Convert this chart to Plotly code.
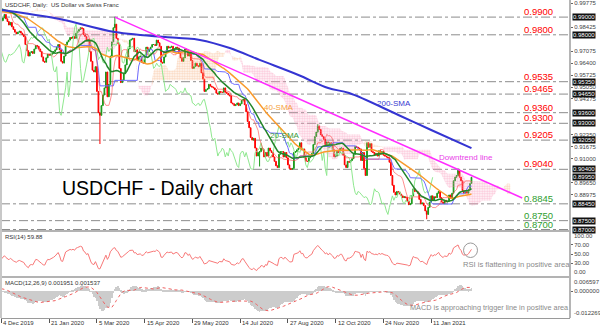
import numpy as np
import pandas as pd
import plotly.graph_objects as go

# ---------------- data ----------------
# warm-up closes (18 Sep - 3 Dec 2019), only used to seed the indicators
pre_close = [0.9920, 0.9935, 0.9910, 0.9880, 0.9865, 0.9890, 0.9910, 0.9935, 0.9975,
             0.9995, 0.9960, 0.9950, 0.9925, 0.9960, 0.9950, 0.9905, 0.9935, 0.9975, 0.9985,
             0.9970, 0.9920, 0.9870, 0.9865, 0.9870, 0.9895, 0.9910, 0.9925, 0.9930, 0.9950,
             0.9935, 0.9905, 0.9865,
             0.9865, 0.9895, 0.9925, 0.9950, 0.9965, 0.9975, 0.9965, 0.9945, 0.9915, 0.9890,
             0.9880, 0.9905, 0.9935, 0.9945, 0.9960, 0.9975, 0.9985, 0.9995, 0.9990, 1.0000,
             1.0005, 0.9945, 0.9875]

c_2019_12 = [0.9880, 0.9895, 0.9915, 0.9890, 0.9875, 0.9855, 0.9870, 0.9845, 0.9830, 0.9815,
             0.9805, 0.9815, 0.9820, 0.9810, 0.9800, 0.9790, 0.9745, 0.9710, 0.9680]
c_2020_01 = [0.9700, 0.9705, 0.9695, 0.9720, 0.9740, 0.9735, 0.9720, 0.9705, 0.9675, 0.9650,
             0.9645, 0.9670, 0.9690, 0.9685, 0.9690, 0.9695, 0.9705, 0.9715, 0.9730, 0.9745,
             0.9715, 0.9650]
c_2020_02 = [0.9640, 0.9680, 0.9745, 0.9760, 0.9770, 0.9785, 0.9780, 0.9790, 0.9780, 0.9810,
             0.9820, 0.9830, 0.9840, 0.9835, 0.9800, 0.9790, 0.9765, 0.9775, 0.9705, 0.9650]
c_2020_03 = [0.9600, 0.9590, 0.9620, 0.9480, 0.9360, 0.9345, 0.9400, 0.9460, 0.9500, 0.9590,
             0.9450, 0.9520, 0.9680, 0.9760, 0.9840, 0.9860, 0.9780, 0.9750, 0.9610, 0.9530,
             0.9545, 0.9580, 0.9630]
c_2020_04 = [0.9675, 0.9720, 0.9770, 0.9775, 0.9780, 0.9705, 0.9715, 0.9660, 0.9675, 0.9680,
             0.9645, 0.9640, 0.9685, 0.9730, 0.9705, 0.9720, 0.9730, 0.9745, 0.9745, 0.9740,
             0.9770, 0.9755, 0.9735, 0.9645]
c_2020_05 = [0.9640, 0.9675, 0.9700, 0.9735, 0.9725, 0.9730, 0.9735, 0.9705, 0.9720, 0.9730,
             0.9725, 0.9695, 0.9670, 0.9650, 0.9670, 0.9720, 0.9715, 0.9680, 0.9700, 0.9655,
             0.9610]
c_2020_06 = [0.9620, 0.9640, 0.9625, 0.9620, 0.9640, 0.9585, 0.9550, 0.9480, 0.9490, 0.9495,
             0.9520, 0.9510, 0.9505, 0.9500, 0.9490, 0.9470, 0.9465, 0.9480, 0.9475, 0.9475,
             0.9500, 0.9475]
c_2020_07 = [0.9470, 0.9460, 0.9455, 0.9415, 0.9410, 0.9400, 0.9405, 0.9415, 0.9400, 0.9410,
             0.9430, 0.9435, 0.9405, 0.9365, 0.9310, 0.9275, 0.9220, 0.9205, 0.9215, 0.9160,
             0.9115, 0.9135, 0.9140]
c_2020_08 = [0.9160, 0.9150, 0.9110, 0.9135, 0.9115, 0.9160, 0.9145, 0.9135, 0.9110, 0.9085,
             0.9060, 0.9050, 0.9125, 0.9140, 0.9140, 0.9110, 0.9135, 0.9105, 0.9065, 0.9045,
             0.9040]
c_2020_09 = [0.9045, 0.9135, 0.9140, 0.9150, 0.9160, 0.9190, 0.9150, 0.9155, 0.9105, 0.9085,
             0.9085, 0.9105, 0.9115, 0.9130, 0.9180, 0.9225, 0.9250, 0.9285, 0.9265, 0.9235,
             0.9225, 0.9210]
c_2020_10 = [0.9180, 0.9195, 0.9165, 0.9190, 0.9175, 0.9150, 0.9110, 0.9115, 0.9145, 0.9135,
             0.9160, 0.9160, 0.9120, 0.9065, 0.9050, 0.9085, 0.9080, 0.9090, 0.9100, 0.9125,
             0.9170, 0.9165, 0.9160]
c_2020_11 = [0.9155, 0.9090, 0.9135, 0.9045, 0.9005, 0.9190, 0.9165, 0.9185, 0.9140, 0.9135,
             0.9120, 0.9130, 0.9115, 0.9145, 0.9125, 0.9140, 0.9120, 0.9115, 0.9110, 0.9105,
             0.9080]
c_2020_12 = [0.9005, 0.8950, 0.8910, 0.8895, 0.8915, 0.8910, 0.8900, 0.8890, 0.8880, 0.8885,
             0.8880, 0.8860, 0.8840, 0.8845, 0.8890, 0.8930, 0.8915, 0.8915, 0.8905, 0.8870,
             0.8845, 0.8850]
c_2021_01 = [0.8835, 0.8805, 0.8785, 0.8825, 0.8855, 0.8890, 0.8865, 0.8885, 0.8880, 0.8905,
             0.8915, 0.8880, 0.8855, 0.8845, 0.8865, 0.8855, 0.8860, 0.8895, 0.8880, 0.8905]
c_2021_02 = [0.8975, 0.8995, 0.9005, 0.9035, 0.8995, 0.8975, 0.8920, 0.8905, 0.8915, 0.8905,
             0.8925, 0.8960, 0.8995]

# notable wick extremes (bar index -> price)
wick_high = {76: 0.9902, 212: 0.9295, 306: 0.9045}
wick_low = {66: 0.9183, 173: 0.9056, 285: 0.8758}

# 200-SMA (bar index, value)
sma200_idx = [0, 39, 76, 119, 133, 153, 173, 199, 219, 233, 266, 288, 315]
sma200_val = [0.9940, 0.9889, 0.9816, 0.9782, 0.9771, 0.9725, 0.9658, 0.9573, 0.9499,
              0.9471, 0.9347, 0.9262, 0.9160]

# downtrend line (bar index, price)
trend_idx = [76, 349]
trend_val = [0.9900, 0.8878]

levels = [0.9900, 0.9800, 0.9535, 0.9465, 0.9360, 0.9300, 0.9205, 0.9040, 0.8845, 0.8750, 0.8700]
level_kind = ["r", "r", "r", "r", "r", "r", "r", "r", "s", "s", "s"]

price_ticks = [0.99775, 0.99100, 0.98425, 0.97750, 0.97075, 0.96400, 0.95725, 0.95050,
               0.94375, 0.93700, 0.93025, 0.92350, 0.91675, 0.91000, 0.90325, 0.89650,
               0.88975, 0.88300, 0.87625, 0.86950]

date_tick_idx = [0, 32, 64, 96, 128, 160, 192, 224, 256, 288]
date_tick_lbl = ["4 Dec 2019", "21 Jan 2020", "5 Mar 2020", "15 Apr 2020", "29 May 2020",
                 "14 Jul 2020", "27 Aug 2020", "12 Oct 2020", "24 Nov 2020", "11 Jan 2021"]

rsi_ticks = [30, 50, 70]
macd_top, macd_bottom = 0.006597, -0.012269
main_range = [0.86915, 0.99966]

# ---------------- indicators ----------------
main_close = (c_2019_12 + c_2020_01 + c_2020_02 + c_2020_03 + c_2020_04 + c_2020_05 +
              c_2020_06 + c_2020_07 + c_2020_08 + c_2020_09 + c_2020_10 + c_2020_11 +
              c_2020_12 + c_2021_01 + c_2021_02)
n_pre = len(pre_close)
full = np.array(pre_close + main_close, dtype=float)
opens = np.concatenate([[full[0]], full[:-1]])
highs = np.maximum(opens, full)
lows = np.minimum(opens, full)
for i, v in wick_high.items():
    highs[n_pre + i] = max(highs[n_pre + i], v)
for i, v in wick_low.items():
    lows[n_pre + i] = min(lows[n_pre + i], v)

s = pd.Series(full)
hs = pd.Series(highs)
ls = pd.Series(lows)
N = len(main_close)
xi = np.arange(N)

sma20 = s.rolling(20, min_periods=1).mean().values[n_pre:]
sma40 = s.rolling(40, min_periods=1).mean().values[n_pre:]
tenkan = ((hs.rolling(9, min_periods=1).max() + ls.rolling(9, min_periods=1).min()) / 2).values
kijun = ((hs.rolling(26, min_periods=1).max() + ls.rolling(26, min_periods=1).min()) / 2).values
span_a = (tenkan + kijun) / 2
span_b = ((hs.rolling(52, min_periods=1).max() + ls.rolling(52, min_periods=1).min()) / 2).values

cx_all = np.arange(len(full)) - n_pre + 26
m = cx_all >= 0
cx, ca, cb = cx_all[m], span_a[m], span_b[m]

chx_all = np.arange(len(full)) - n_pre - 26
m2 = chx_all >= 0
chx, chy = chx_all[m2], full[m2]

d = s.diff().fillna(0)
up = d.clip(lower=0)
dn = -d.clip(upper=0)
ru = up.ewm(alpha=1 / 14, adjust=False).mean()
rd = dn.ewm(alpha=1 / 14, adjust=False).mean()
rsi = (100 - 100 / (1 + ru / rd.replace(0, np.nan))).fillna(50).values[n_pre:]

macd_s = s.ewm(span=12, adjust=False).mean() - s.ewm(span=26, adjust=False).mean()
signal_s = macd_s.rolling(9, min_periods=1).mean()
macd = macd_s.values[n_pre:]
signal = signal_s.values[n_pre:]

# ---------------- layout helpers ----------------
W, H = 600, 327
ML, MR, MT, MB = 1, 27, 0, 9
PW, PH = W - ML - MR, H - MT - MB


def fx(p):
    return (p - ML) / PW


def fy(p):
    return 1 - (p - MT) / PH


main_dom = [fy(231), 1]
rsi_dom = [fy(277), fy(231)]
macd_dom = [0, fy(277)]
x_range = [-0.3, -0.3 + PW / 1.5]
px_per_price = 231 / (main_range[1] - main_range[0])

RED = "#ff0000"
GRN = "#2e9e2e"

fig = go.Figure()

# Ichimoku cloud
bull = ca >= cb
start = 0
for k in range(1, len(cx) + 1):
    if k == len(cx) or bull[k] != bull[start]:
        e = min(k + 1, len(cx))
        xs = list(cx[start:e]) + list(cx[start:e][::-1])
        ys = list(ca[start:e]) + list(cb[start:e][::-1])
        col = "#f5b080" if bull[start] else "#f790b4"
        fig.add_trace(go.Scatter(
            x=xs, y=ys, mode="lines", line=dict(width=0), fill="toself",
            fillcolor="rgba(0,0,0,0)",
            fillpattern=dict(shape=".", fgcolor=col, bgcolor="rgba(255,255,255,0)",
                             size=2.5, solidity=0.6),
            hoverinfo="skip", showlegend=False))
        start = k

# Candles
fig.add_trace(go.Candlestick(
    x=xi, open=opens[n_pre:], high=highs[n_pre:], low=lows[n_pre:], close=full[n_pre:],
    increasing=dict(line=dict(color="#1a9a1a", width=1), fillcolor="#1a9a1a"),
    decreasing=dict(line=dict(color=RED, width=1), fillcolor=RED),
    whiskerwidth=0, showlegend=False, hoverinfo="skip"))

# Ichimoku lines
fig.add_trace(go.Scatter(x=chx, y=chy, mode="lines", line=dict(color="#8fe88f", width=1),
                         showlegend=False, hoverinfo="skip"))
fig.add_trace(go.Scatter(x=xi, y=kijun[n_pre:], mode="lines", line=dict(color="#6b6bff", width=1),
                         showlegend=False, hoverinfo="skip"))
fig.add_trace(go.Scatter(x=xi, y=tenkan[n_pre:], mode="lines",
                         line=dict(color="rgba(255,70,70,0.6)", width=1),
                         showlegend=False, hoverinfo="skip"))

# Moving averages
fig.add_trace(go.Scatter(x=xi, y=sma40, mode="lines", line=dict(color="#f99a2c", width=1.5),
                         showlegend=False, hoverinfo="skip"))
fig.add_trace(go.Scatter(x=xi, y=sma20, mode="lines", line=dict(color="#23862a", width=1.5),
                         showlegend=False, hoverinfo="skip"))
fig.add_trace(go.Scatter(x=sma200_idx, y=sma200_val, mode="lines", line_shape="spline",
                         line=dict(color="#3434d2", width=2), showlegend=False, hoverinfo="skip"))

# Trend line
fig.add_trace(go.Scatter(x=trend_idx, y=trend_val, mode="lines", line=dict(color="#ff2cff", width=1.5),
                         showlegend=False, hoverinfo="skip"))

# RSI
fig.add_trace(go.Scatter(x=xi, y=rsi, mode="lines", line=dict(color="#f87878", width=1),
                         yaxis="y2", showlegend=False, hoverinfo="skip"))

# MACD
fig.add_trace(go.Bar(x=xi, y=macd, marker=dict(color="#cccccc", line=dict(width=0)), width=0.5,
                     yaxis="y3", showlegend=False, hoverinfo="skip"))
fig.add_trace(go.Scatter(x=xi, y=signal, mode="lines", line=dict(color="#f06060", width=1, dash="dot"),
                         yaxis="y3", showlegend=False, hoverinfo="skip"))

shapes = []
annotations = []
box_vals = list(levels) + [main_close[-1]]
for lv, kind in zip(levels, level_kind):
    shapes.append(dict(type="line", xref="paper", x0=0, x1=1, yref="y", y0=lv, y1=lv,
                       line=dict(color="#8c8c8c", width=1, dash="dashdot"), layer="below"))
    annotations.append(dict(xref="paper", x=fx(558), xanchor="right", yref="y", y=lv, yanchor="bottom",
                            yshift=-2, text=f"{lv:.4f}", showarrow=False,
                            font=dict(size=9.5, color=RED if kind == "r" else GRN)))
for bv in box_vals:
    annotations.append(dict(xref="paper", x=1, xanchor="left", xshift=2, yref="y", y=bv,
                            text=f"{bv:.5f}", showarrow=False, bgcolor="#111111",
                            borderpad=0, font=dict(size=6, color="#ffffff")))

# tick labels hidden behind the value boxes
shown_ticks = [t for t in price_ticks
               if min(abs(t - b) for b in box_vals) * px_per_price >= 4.6]

# panel borders
for yy in [fy(231), fy(277)]:
    shapes.append(dict(type="line", xref="paper", yref="paper", x0=0, x1=1, y0=yy, y1=yy,
                       line=dict(color="#9a9a9a", width=1.5)))
shapes.append(dict(type="line", xref="paper", yref="paper", x0=1, x1=1, y0=0, y1=1,
                   line=dict(color="#b5b5b5", width=2)))
shapes.append(dict(type="line", xref="paper", yref="paper", x0=0, x1=0, y0=0, y1=1,
                   line=dict(color="#c8c8c8", width=2)))
# RSI circle
shapes.append(dict(type="circle", xref="paper", yref="paper", x0=fx(466), x1=fx(480),
                   y0=fy(257.5), y1=fy(243), line=dict(color="#9a9a9a", width=1)))

# date labels
for ti, tl in zip(date_tick_idx, date_tick_lbl):
    annotations.append(dict(xref="x", x=ti, xanchor="left", xshift=0, yref="paper", y=fy(322.5),
                            yanchor="middle", text=tl, showarrow=False,
                            font=dict(size=6, color="#333333")))

# RSI / MACD edge labels
annotations += [
    dict(xref="paper", x=1, xanchor="left", xshift=2, yref="y2", y=100, yanchor="top",
         text="100.00", showarrow=False, font=dict(size=6, color="#444")),
    dict(xref="paper", x=1, xanchor="left", xshift=2, yref="y2", y=0, yanchor="bottom",
         text="0.00", showarrow=False, font=dict(size=6, color="#444")),
    dict(xref="paper", x=1, xanchor="left", xshift=2, yref="y3", y=macd_top, yanchor="top",
         text=f"{macd_top:.6f}", showarrow=False, font=dict(size=6, color="#444")),
    dict(xref="paper", x=1, xanchor="left", xshift=2, yref="y3", y=macd_bottom, yanchor="bottom",
         text=f"{macd_bottom:.6f}", showarrow=False, font=dict(size=6, color="#444")),
]


def txt(x, y, t, size, color, xa="left"):
    annotations.append(dict(xref="paper", yref="paper", x=fx(x), y=fy(y), xanchor=xa,
                            yanchor="middle", text=t, showarrow=False,
                            font=dict(size=size, color=color)))


txt(3, 4.5, "USDCHF, Daily:  US Dollar vs Swiss Franc", 6, "#333333")
txt(3, 236.5, "RSI(14) 59.88", 6, "#333333")
txt(3, 282.5, "MACD(12,26,9) 0.001951 0.001537", 6, "#333333")
txt(60, 188, "USDCHF - Daily chart", 19.5, "#000000")
txt(439, 157.5, "Downtrend line", 8, "#e83ce8")
txt(377, 103, "200-SMA", 8, "#3a3ad0")
txt(263, 107, "40-SMA", 8, "#f5a040")
txt(269, 135, "20-SMA", 8, "#3a9a3a")
txt(463, 264, "RSI is flattening in positive area", 7.6, "#8a8a8a")
txt(410, 307, "MACD is approaching trigger line in positive area", 7.3, "#8a8a8a")

fig.update_layout(
    width=W, height=H, margin=dict(l=ML, r=MR, t=MT, b=MB),
    paper_bgcolor="white", plot_bgcolor="white",
    font=dict(family="Arial, Liberation Sans, sans-serif", size=6, color="#444"),
    showlegend=False, bargap=0,
    xaxis=dict(domain=[0, 1], anchor="y3", range=x_range, showgrid=False, zeroline=False,
               tickvals=date_tick_idx, ticktext=[""] * len(date_tick_idx), ticks="outside",
               ticklen=4, tickcolor="#555", showline=True, linecolor="#9a9a9a",
               rangeslider=dict(visible=False), fixedrange=True),
    yaxis=dict(domain=main_dom, range=main_range, side="right", anchor="x", showgrid=False,
               zeroline=False, tickvals=shown_ticks, ticktext=[f"{v:.5f}" for v in shown_ticks],
               ticks="outside", ticklen=2, tickcolor="#666", tickfont=dict(size=6, color="#444")),
    yaxis2=dict(domain=rsi_dom, range=[0, 100], side="right", anchor="x", showgrid=False,
                zeroline=False, tickvals=rsi_ticks, ticktext=[f"{v:.2f}" for v in rsi_ticks],
                ticks="outside", ticklen=2, tickcolor="#666", tickfont=dict(size=6, color="#444")),
    yaxis3=dict(domain=macd_dom, range=[macd_bottom, macd_top], side="right", anchor="x",
                showgrid=False, zeroline=False, tickvals=[0], ticktext=["0.000000"],
                ticks="outside", ticklen=2, tickcolor="#666", tickfont=dict(size=6, color="#444")),
    shapes=shapes, annotations=annotations,
)

fig.write_html("out.html", config={"displayModeBar": False})
